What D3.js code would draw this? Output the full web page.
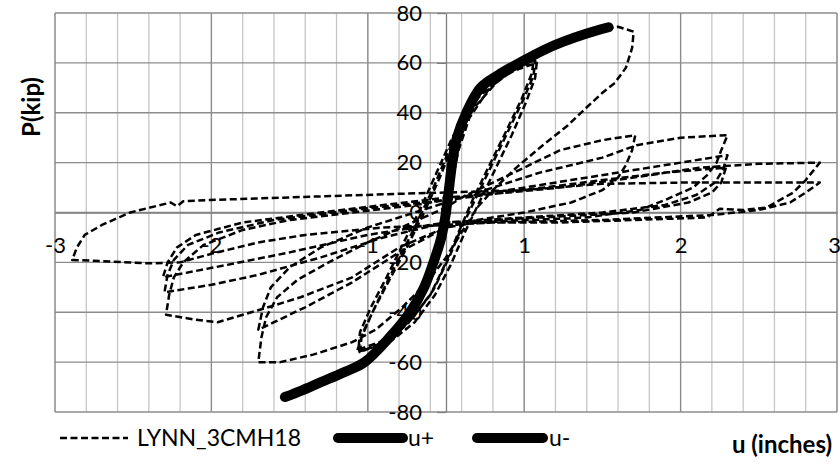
<!DOCTYPE html>
<html>
<head>
<meta charset="utf-8">
<title>LYNN_3CMH18 hysteresis</title>
<style>
body { margin: 0; background: #fff; }
text { font-family: Lato, "Open Sans", sans-serif; fill: #000; }
.grid-major { stroke: #8c8c8c; stroke-width: 1.3px; }
.grid-minor { stroke: #c6c6c6; stroke-width: 1.3px; }
.hyst { fill: none; stroke: #000; stroke-width: 2.5px; stroke-dasharray: 7,3.5; stroke-linejoin: round; }
.env { fill: none; stroke: #000; stroke-width: 10px; stroke-linecap: round; stroke-linejoin: round; }
</style>
</head>
<body>
<script src="https://cdnjs.cloudflare.com/ajax/libs/d3/7.8.5/d3.min.js"></script>
<script>

var width = 840,
    height = 464;

// axis ticks (Excel labels the -2.5..2.5 majors rounded to integers)
var xMajor = [-2.5, -1.5, -0.5, 0.5, 1.5, 2.5];
var yTicks = [-80, -60, -40, -20, 0, 20, 40, 60, 80];

// backbone curves, [u (in), P (kip)]
var envPos = [[0,0],[0.02,10],[0.04,20],[0.07,30],[0.13,40],[0.22,50],[0.33,55],[0.47,60],[0.62,65],[0.75,68.5],[0.9,71.8],[1.04,74.3]];
var envNeg = [[0,0],[-0.03,-10],[-0.08,-20],[-0.14,-30],[-0.23,-40],[-0.36,-50],[-0.52,-60],[-0.65,-64],[-0.81,-68.3],[-0.92,-71.3],[-1.03,-74]];

// test record LYNN_3CMH18, split by cycle group
var elastic = [[0,0],[0.03,10],[0.08,25],[0.15,38],[0.28,50],[0.42,57],[0.56,61],
  [0.55,56],[0.48,45],[0.38,32],[0.27,18],[0.17,5],[0.08,-8],[0,-20],[-0.1,-33],[-0.25,-45],[-0.4,-52],[-0.55,-56],
  [-0.54,-50],[-0.47,-40],[-0.37,-28],[-0.25,-14],[-0.14,0],[-0.04,14],[0.05,28],[0.18,42],[0.32,52],[0.45,58],[0.57,61],
  [0.56,55],[0.5,46],[0.4,33],[0.3,20],[0.2,7],[0.1,-6],[0.02,-18],[-0.08,-31],[-0.22,-43],[-0.38,-51],[-0.56,-55],
  [-0.55,-48],[-0.48,-38],[-0.38,-26],[-0.27,-12],[-0.16,2],[-0.06,16],[0.04,30],[0.16,43],[0.3,52],[0.44,57],[0.58,60],
  [0.57,54],[0.51,44],[0.42,31],[0.32,18],[0.22,5],[0.12,-8],[0.03,-21],[-0.07,-33],[-0.2,-44],[-0.36,-52],[-0.57,-56]];
var cyc12a = [[-0.53,-48],[-0.44,-36],[-0.33,-22],[-0.2,-6],[-0.08,10],[0.02,25],[0.12,40],[0.28,53],[0.5,62],[0.75,69],[1.0,73.5],[1.1,74.5],[1.2,72.5],
  [1.19,66],[1.15,58],[1.08,52],[1.0,48],[0.88,41],[0.78,35],[0.6,26],[0.45,18],[0.3,9],[0.2,2],[0.1,-8],[0,-18],
  [-0.12,-28],[-0.28,-38],[-0.45,-47],[-0.6,-52],[-0.85,-57],[-1.06,-60],[-1.2,-60],
  [-1.18,-50],[-1.15,-42],[-1.08,-34],[-0.95,-27],[-0.75,-20],[-0.5,-12],[-0.25,-5],[0,2]];
var cyc12b = [[0.1,6],[0.3,12],[0.5,18],[0.73,25],[1.0,29],[1.21,31],
  [1.19,25],[1.15,19],[1.1,14],[1.0,9],[0.8,4],[0.5,0],[0.2,-3],[0,-6],
  [-0.3,-16],[-0.6,-28],[-0.9,-38],[-1.1,-44],[-1.2,-47],
  [-1.17,-38],[-1.12,-30],[-1.0,-22],[-0.8,-14],[-0.5,-6],[-0.2,0],[0,4]];
var cyc18a = [[0.3,10],[0.6,16],[1.0,22],[1.22,27],[1.5,30],[1.8,31],
  [1.76,25],[1.73,20],[1.67,15],[1.58,10],[1.4,5],[1.24,1],[0.9,-2],[0.5,-3],[0.2,-4],[0,-6],
  [-0.3,-14],[-0.6,-26],[-0.93,-34],[-1.19,-39],[-1.46,-44],[-1.6,-43],[-1.79,-41],
  [-1.77,-33],[-1.74,-26],[-1.68,-20],[-1.55,-13],[-1.3,-7],[-1.0,-3],[-0.6,0],[-0.2,3],[0,5]];
var cyc18b = [[0.4,9],[0.8,13],[1.2,17],[1.5,20],[1.8,23],
  [1.77,17],[1.72,12],[1.6,7],[1.4,3],[1.0,0],[0.5,-2],[0,-4],
  [-0.4,-10],[-0.8,-18],[-1.2,-25],[-1.5,-29],[-1.8,-32],
  [-1.78,-25],[-1.74,-19],[-1.65,-13],[-1.45,-8],[-1.1,-3],[-0.6,1],[0,5]];
var cyc18c = [[0.5,9],[1.0,13],[1.4,16],[1.79,18],
  [1.76,12],[1.7,8],[1.55,4],[1.2,0],[0.6,-2],[0,-4],
  [-0.5,-9],[-1.0,-16],[-1.4,-21],[-1.81,-26],
  [-1.78,-20],[-1.72,-14],[-1.6,-9],[-1.3,-4],[-0.8,0],[0,6]];
var cyc24a = [[0.4,8],[0.73,10],[1.2,14],[1.62,18],[2.0,19.5],[2.39,20],
  [2.3,13],[2.22,8],[2.05,2],[1.9,1],[1.75,1.5],[1.67,-2],[1.2,-3],[0.73,-4],[0.3,-4],[0,-5],
  [-0.4,-6],[-0.9,-9],[-1.2,-12],[-1.49,-16.4],[-1.7,-20],[-1.89,-20.4],[-2.2,-19.5],[-2.39,-19],
  [-2.36,-14],[-2.31,-9],[-2.2,-5],[-2.02,0],[-1.76,4],[-1.72,2.5],[-1.68,4.5],[-1.51,5],[-0.93,6.2],[-0.3,7.5],[0,8]];
var cyc24b = [[0.5,9],[1.0,11.5],[1.5,12],[2.0,12],[2.39,12],
  [2.3,8],[2.2,4],[2.0,1],[1.7,-1],[1.0,-3],[0.3,-4],[0,-5],[-0.3,-6]];

var x = d3.scaleLinear().domain([-2.5, 2.5]).range([55, 837]);
var y = d3.scaleLinear().domain([-80, 80]).range([412, 13]);

var svg = d3.select("body").append("svg")
    .attr("width", width)
    .attr("height", height);

// grid
var xMinor = d3.range(26).map(function(i) { return -2.5 + i * 0.2; });
svg.append("g").selectAll("line")
    .data(xMinor).enter().append("line")
    .attr("class", "grid-minor")
    .attr("x1", function(d) { return x(d); }).attr("x2", function(d) { return x(d); })
    .attr("y1", y(80)).attr("y2", y(-80));
svg.append("g").selectAll("line")
    .data(xMajor).enter().append("line")
    .attr("class", "grid-major")
    .attr("x1", function(d) { return x(d); }).attr("x2", function(d) { return x(d); })
    .attr("y1", y(80)).attr("y2", y(-80));
svg.append("g").selectAll("line")
    .data(yTicks).enter().append("line")
    .attr("class", "grid-major")
    .attr("x1", x(-2.5)).attr("x2", x(2.5))
    .attr("y1", function(d) { return y(d); }).attr("y2", function(d) { return y(d); });

// axes cross at zero
var hyphen = function(d) { return (d < 0 ? "-" : "") + Math.round(Math.abs(d)); };

var yAxis = svg.append("g")
    .attr("transform", "translate(" + x(0) + ",0)")
    .call(d3.axisLeft(y).tickValues(yTicks).tickFormat(hyphen).tickSize(9).tickSizeOuter(0).tickPadding(15));
var xAxis = svg.append("g")
    .attr("transform", "translate(0," + y(0) + ")")
    .call(d3.axisBottom(x).tickValues(xMajor).tickFormat(hyphen).tickSize(0).tickPadding(25));

[yAxis, xAxis].forEach(function(a) {
  a.select(".domain").attr("stroke", "#7f7f7f").attr("stroke-width", 1.3);
  a.selectAll(".tick line").attr("stroke", "#7f7f7f").attr("stroke-width", 1.3);
  a.selectAll("text").style("font-family", "Lato").style("font-size", "22px").attr("fill", "#000");
});
// last label sits on the right edge; keep it inside the window
xAxis.selectAll(".tick text").filter(function(d) { return d === 2.5; }).attr("dx", -3);

// curves
var line = d3.line()
    .x(function(d) { return x(d[0]); })
    .y(function(d) { return y(d[1]); });
var smooth = d3.line()
    .x(function(d) { return x(d[0]); })
    .y(function(d) { return y(d[1]); })
    .curve(d3.curveCatmullRom);

var record = [].concat(elastic, cyc12a, cyc12b, cyc18a, cyc18b, cyc18c, cyc24a, cyc24b);

svg.append("path").datum(record).attr("class", "hyst").attr("d", line);
svg.append("path").datum(envPos).attr("class", "env").attr("d", smooth);
svg.append("path").datum(envNeg).attr("class", "env").attr("d", smooth);

// titles
svg.append("text")
    .attr("transform", "translate(40,107)rotate(-90)")
    .attr("text-anchor", "middle")
    .style("font-weight", "bold").style("font-size", "24px")
    .text("P(kip)");
svg.append("text")
    .attr("x", 832).attr("y", 453)
    .attr("text-anchor", "end")
    .style("font-weight", "bold").style("font-size", "24px")
    .text("u (inches)");

// legend
var legend = svg.append("g").attr("transform", "translate(0,438)");
legend.append("line").attr("class", "hyst").attr("x1", 60).attr("x2", 128).attr("y1", 0).attr("y2", 0);
legend.append("text").attr("x", 137).attr("y", 8).style("font-size", "23px").text("LYNN_3CMH18");
legend.append("line").attr("class", "env").attr("x1", 338).attr("x2", 403).attr("y1", 0).attr("y2", 0);
legend.append("text").attr("x", 408).attr("y", 8).style("font-size", "23px").text("u+");
legend.append("line").attr("class", "env").attr("x1", 477).attr("x2", 543).attr("y1", 0).attr("y2", 0);
legend.append("text").attr("x", 549).attr("y", 8).style("font-size", "23px").text("u-");

</script>
</body>
</html>
